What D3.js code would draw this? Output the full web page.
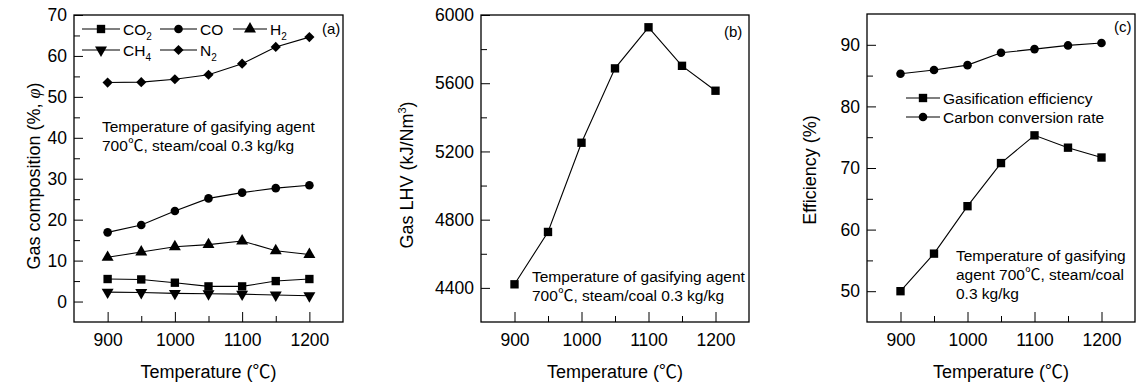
<!DOCTYPE html>
<html>
<head>
<meta charset="utf-8">
<script src="https://cdn.jsdelivr.net/npm/d3@7"></script>
<style>
  body { margin: 0; background: #fff; }
  svg { display: block; font-family: "Liberation Sans", Arial, sans-serif; }
  .axis text { font-size: 17.5px; fill: #000; }
  .axis line, .axis path { stroke: #000; }
  .cjk { font-family: "Noto Sans CJK SC", sans-serif; }
</style>
</head>
<body>
<svg id="chart" width="1136" height="386"></svg>
<script>
"use strict";

/********/
/* data */
/********/

const temperatures = [900, 950, 1000, 1050, 1100, 1150, 1200];
const xMajorTicks = [900, 1000, 1100, 1200];
const xMinorTicks = [950, 1050, 1150];

// (a) gas composition, %
const co2 = [5.5, 5.4, 4.6, 3.7, 3.7, 5.0, 5.5];
const co = [16.9, 18.7, 22.1, 25.2, 26.6, 27.7, 28.4];
const h2 = [10.8, 12.1, 13.4, 13.9, 14.8, 12.4, 11.5];
const ch4 = [2.3, 2.2, 2.0, 1.9, 1.8, 1.6, 1.4];
const n2 = [53.5, 53.6, 54.3, 55.4, 58.1, 62.2, 64.6];
const compositionTicks = [0, 10, 20, 30, 40, 50, 60, 70];
const compositionMinorTicks = [5, 15, 25, 35, 45, 55, 65];

// (b) gas LHV, kJ/Nm3
const lhv = [4421, 4728, 5251, 5687, 5928, 5702, 5556];
const lhvTicks = [4400, 4800, 5200, 5600, 6000];
const lhvMinorTicks = [4600, 5000, 5400, 5800];

// (c) efficiency, %
const gasificationEfficiency = [50.0, 56.1, 63.8, 70.8, 75.3, 73.3, 71.7];
const carbonConversion = [85.3, 85.9, 86.7, 88.7, 89.3, 89.9, 90.3];
const efficiencyTicks = [50, 60, 70, 80, 90];
const efficiencyMinorTicks = [55, 65, 75, 85];

/********/
/* view */
/********/

const svg = d3.select("#chart");
const fmt = d3.format("d");

const shapes = {
  square: { type: d3.symbolSquare, size: 70, rotate: 0 },
  circle: { type: d3.symbolCircle, size: 58, rotate: 0 },
  triangle: { type: d3.symbolTriangle, size: 62, rotate: 0 },
  triangleDown: { type: d3.symbolTriangle, size: 62, rotate: 180 },
  diamond: { type: d3.symbolSquare, size: 52, rotate: 45 },
};

function marker(g, shape, x, y) {
  const s = shapes[shape];
  g.append("path")
    .attr("d", d3.symbol().type(s.type).size(s.size)())
    .attr("transform", `translate(${x},${y}) rotate(${s.rotate})`)
    .attr("fill", "#000");
}

// text with ℃ drawn in a CJK face, like the original figure
function richText(t, str) {
  str.split("℃").forEach((part, i) => {
    if (i > 0) t.append("tspan").attr("class", "cjk").text("℃");
    if (part) t.append("tspan").text(part);
  });
}

function panel(opts) {
  const g = svg.append("g");
  const x = d3.scaleLinear().domain([850, 1250]).range([opts.left, opts.right]);
  const y = d3.scaleLinear().domain(opts.yDomain).range([opts.bottom, opts.top]);

  // frame
  g.append("rect")
    .attr("x", opts.left)
    .attr("y", opts.top)
    .attr("width", opts.right - opts.left)
    .attr("height", opts.bottom - opts.top)
    .attr("fill", "none")
    .attr("stroke", "#000")
    .attr("stroke-width", 1.3);

  // x axis, ticks inward
  g.append("g")
    .attr("class", "axis")
    .attr("transform", `translate(0,${opts.bottom})`)
    .call(d3.axisBottom(x).tickValues(xMajorTicks).tickFormat(fmt)
      .tickSize(-10).tickSizeOuter(0).tickPadding(12))
    .call(a => a.select(".domain").remove());
  g.append("g")
    .attr("class", "axis")
    .attr("transform", `translate(0,${opts.bottom})`)
    .call(d3.axisBottom(x).tickValues(xMinorTicks).tickSize(-6).tickFormat(""))
    .call(a => a.select(".domain").remove());

  // y axis, ticks inward
  g.append("g")
    .attr("class", "axis")
    .attr("transform", `translate(${opts.left},0)`)
    .call(d3.axisLeft(y).tickValues(opts.yTicks).tickFormat(fmt)
      .tickSize(-9).tickSizeOuter(0).tickPadding(7))
    .call(a => a.select(".domain").remove());
  g.append("g")
    .attr("class", "axis")
    .attr("transform", `translate(${opts.left},0)`)
    .call(d3.axisLeft(y).tickValues(opts.yMinorTicks).tickSize(-6).tickFormat(""))
    .call(a => a.select(".domain").remove());

  // axis titles
  const xTitle = g.append("text")
    .attr("x", (opts.left + opts.right) / 2)
    .attr("y", 378)
    .attr("text-anchor", "middle")
    .attr("font-size", 18);
  richText(xTitle, "Temperature (℃)");

  const yTitle = g.append("text")
    .attr("transform", `translate(${opts.yTitleX},${opts.yTitleY}) rotate(-90)`)
    .attr("text-anchor", "middle")
    .attr("font-size", 18);
  opts.yTitle(yTitle);

  // series
  const line = d3.line().x((d, i) => x(temperatures[i])).y(d => y(d));
  opts.series.forEach(s => {
    g.append("path")
      .attr("d", line(s.values))
      .attr("fill", "none")
      .attr("stroke", "#000")
      .attr("stroke-width", 1.1);
    s.values.forEach((v, i) => marker(g, s.shape, x(temperatures[i]), y(v)));
  });

  // panel label
  g.append("text")
    .attr("x", opts.labelX)
    .attr("y", opts.labelY)
    .attr("font-size", 15)
    .text(opts.label);

  // note
  opts.note.forEach((str, i) => {
    const t = g.append("text")
      .attr("x", opts.noteX)
      .attr("y", opts.noteY + i * 19)
      .attr("font-size", 15.5);
    richText(t, str);
  });

  return g;
}

function legendEntry(g, shape, x0, x1, y, name, sub) {
  g.append("line")
    .attr("x1", x0).attr("x2", x1)
    .attr("y1", y).attr("y2", y)
    .attr("stroke", "#000").attr("stroke-width", 1.1);
  marker(g, shape, (x0 + x1) / 2, y);
  const t = g.append("text")
    .attr("x", x1 + 3)
    .attr("y", y + 5.5)
    .attr("font-size", 15.5)
    .text(name);
  if (sub) {
    t.append("tspan").attr("font-size", 10).attr("dy", 5).text(sub);
  }
}

/* (a) */
const pa = panel({
  left: 74, right: 343, top: 15, bottom: 322,
  yDomain: [-5, 70], yTicks: compositionTicks, yMinorTicks: compositionMinorTicks,
  yTitleX: 40, yTitleY: 176,
  yTitle: t => {
    t.append("tspan").text("Gas composition (%, ");
    t.append("tspan").attr("font-style", "italic").attr("font-family", "Liberation Serif, serif").text("φ");
    t.append("tspan").text(")");
  },
  series: [
    { values: co2, shape: "square" },
    { values: co, shape: "circle" },
    { values: h2, shape: "triangle" },
    { values: ch4, shape: "triangleDown" },
    { values: n2, shape: "diamond" },
  ],
  label: "(a)", labelX: 322, labelY: 34,
  note: ["Temperature of gasifying agent", "700℃, steam/coal 0.3 kg/kg"],
  noteX: 102, noteY: 132,
});
legendEntry(pa, "square", 82, 120, 29, "CO", "2");
legendEntry(pa, "circle", 160, 197, 29, "CO");
legendEntry(pa, "triangle", 233, 267, 29, "H", "2");
legendEntry(pa, "triangleDown", 82, 120, 50, "CH", "4");
legendEntry(pa, "diamond", 160, 197, 50, "N", "2");

/* (b) */
panel({
  left: 481, right: 749, top: 15, bottom: 322,
  yDomain: [4200, 6000], yTicks: lhvTicks, yMinorTicks: lhvMinorTicks,
  yTitleX: 413, yTitleY: 175,
  yTitle: t => {
    t.append("tspan").text("Gas LHV (kJ/Nm");
    t.append("tspan").attr("font-size", 11).attr("dy", -7).text("3");
    t.append("tspan").attr("dy", 7).text(")");
  },
  series: [{ values: lhv, shape: "square" }],
  label: "(b)", labelX: 724, labelY: 37,
  note: ["Temperature of gasifying agent", "700℃, steam/coal 0.3 kg/kg"],
  noteX: 532, noteY: 282,
});

/* (c) */
const pc = panel({
  left: 867, right: 1135, top: 14, bottom: 322,
  yDomain: [45, 95], yTicks: efficiencyTicks, yMinorTicks: efficiencyMinorTicks,
  yTitleX: 816, yTitleY: 170,
  yTitle: t => t.text("Efficiency (%)"),
  series: [
    { values: gasificationEfficiency, shape: "square" },
    { values: carbonConversion, shape: "circle" },
  ],
  label: "(c)", labelX: 1114, labelY: 32,
  note: ["Temperature of gasifying", "agent 700℃, steam/coal", "0.3 kg/kg"],
  noteX: 956, noteY: 261,
});
legendEntry(pc, "square", 906, 940, 98, "Gasification efficiency");
legendEntry(pc, "circle", 906, 940, 117, "Carbon conversion rate");
</script>
</body>
</html>
